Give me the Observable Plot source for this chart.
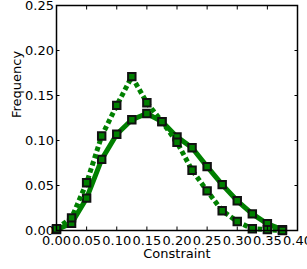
<!DOCTYPE html>
<html><head><meta charset="utf-8">
<script src="https://cdn.jsdelivr.net/npm/d3@7"></script>
<script src="https://cdn.jsdelivr.net/npm/@observablehq/plot@0.6"></script>
<style>html,body{margin:0;padding:0;background:#fff;} svg{display:block;}</style>
</head><body><div id="chart"></div>
<script>
const constraint = [0, 0.025, 0.05, 0.075, 0.1, 0.125, 0.15, 0.175, 0.2, 0.225, 0.25, 0.275, 0.3, 0.325, 0.35, 0.375];
const freqSolid  = [0.001, 0.008, 0.036, 0.079, 0.107, 0.123, 0.130, 0.121, 0.104, 0.092, 0.071, 0.051, 0.033, 0.0185, 0.0074, 0.001];
const freqDotted = [0.002, 0.014, 0.053, 0.105, 0.139, 0.171, 0.142, 0.121, 0.098, 0.067, 0.044, 0.022, 0.010, 0.002, 0.001, 0.0];
const xTicks = [0, 0.05, 0.10, 0.15, 0.20, 0.25, 0.30, 0.35, 0.40];
const yTicks = [0, 0.05, 0.10, 0.15, 0.20, 0.25];
const xLabel = "Constraint";
const yLabel = "Frequency";

const solid = constraint.map((c, i) => ({x: c, y: freqSolid[i]}));
const dotted = constraint.map((c, i) => ({x: c, y: freqDotted[i]}));
const green = "#008000";
const font = "DejaVu Sans";

const chart = Plot.plot({
  width: 307,
  height: 269,
  marginLeft: 56,
  marginRight: 10,
  marginTop: 5,
  marginBottom: 39,
  style: {fontFamily: font, background: "#fff", color: "#000"},
  x: {domain: [0, 0.4]},
  y: {domain: [0, 0.25]},
  marks: [
    Plot.line(solid, {x: "x", y: "y", stroke: green, strokeWidth: 5}),
    Plot.dot(solid, {x: "x", y: "y", symbol: "square", r: 4.2, fill: green, stroke: "#111", strokeWidth: 2}),
    Plot.line(dotted, {x: "x", y: "y", stroke: green, strokeWidth: 5, strokeDasharray: "4.5,3", strokeLinecap: "butt"}),
    Plot.dot(dotted, {x: "x", y: "y", symbol: "square", r: 4.2, fill: green, stroke: "#111", strokeWidth: 2}),
    Plot.frame({stroke: "#000", strokeWidth: 1.5}),
    Plot.axisX(xTicks, {anchor: "bottom", tickSize: -3.5, tickPadding: 8.5, tickFormat: d => d.toFixed(2), fontSize: 13, label: null, stroke: "#000"}),
    Plot.axisX(xTicks, {anchor: "top", tickSize: -3.5, text: null, label: null}),
    Plot.axisY(yTicks, {anchor: "left", tickSize: -3.5, tickPadding: 6, tickFormat: d => d.toFixed(2), fontSize: 13, label: null}),
    Plot.axisY(yTicks, {anchor: "right", tickSize: -3.5, text: null, label: null}),
    Plot.text([xLabel], {frameAnchor: "bottom", text: d => d, dy: 18, lineAnchor: "top", fontSize: 13, fill: "#000"}),
    Plot.text([yLabel], {frameAnchor: "left", text: d => d, rotate: -90, dx: -40, fontSize: 13, fill: "#000"})
  ]
});
document.getElementById("chart").appendChild(chart);
</script>
</body></html>
